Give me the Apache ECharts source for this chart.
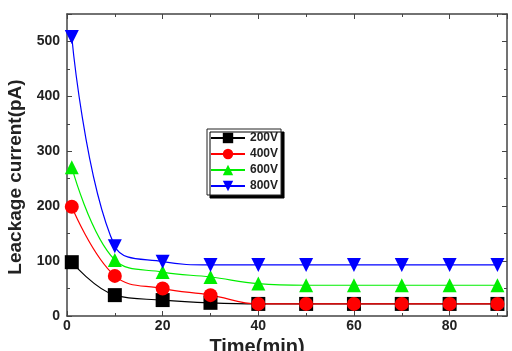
<!DOCTYPE html>
<html>
<head>
<meta charset="utf-8">
<script src="https://cdn.jsdelivr.net/npm/echarts@6/dist/echarts.min.js"></script>
<style>
html, body { margin: 0; padding: 0; background: #fff; }
#chart { width: 512px; height: 351px; }
</style>
</head>
<body>
<div id="chart"></div>
<script>
// 数据
var times = [1, 10, 20, 30, 40, 50, 60, 70, 80, 90];
var v200 = [98, 38, 29, 24, 22, 22, 22, 22, 22, 22];
var v400 = [199, 73, 50, 38, 22, 22, 22, 22, 22, 22];
var v600 = [271, 102, 80, 71, 59, 56, 56, 56, 56, 56];
var v800 = [508, 127, 99, 93, 93, 93, 93, 93, 93, 93];
var seriesNames = ['200V', '400V', '600V', '800V'];

function pairs(ys) {
    return times.map(function (t, i) { return [t, ys[i]]; });
}

var myChart = echarts.init(document.getElementById('chart'));

var font = 'Liberation Sans, Arial, sans-serif';
var axisFont = { fontFamily: font, fontWeight: 'bold', fontSize: 14, color: '#222' };
var frameLine = { onZero: false, lineStyle: { color: '#444', width: 1.5 } };
var tickIn = { show: true, inside: true, length: 5, lineStyle: { color: '#444' } };
var minorIn = { show: true, splitNumber: 2, length: 3, lineStyle: { color: '#444' } };

function makeSeries(name, ys, color, symbol, rotate) {
    return {
        name: name,
        type: 'line',
        data: pairs(ys),
        smooth: 0.4,
        symbol: symbol,
        symbolSize: 14,
        symbolRotate: rotate || 0,
        itemStyle: { color: color },
        lineStyle: { color: color, width: 1.2 }
    };
}

var option = {
    animation: false,
    backgroundColor: '#fff',
    grid: { left: 67, right: 5, top: 14, bottom: 35, containLabel: false, outerBoundsMode: 'none' },
    legend: {
        data: seriesNames,
        orient: 'vertical',
        left: 207,
        top: 129,
        itemWidth: 34,
        itemHeight: 13,
        itemGap: 4,
        padding: [3, 3, 3, 3],
        backgroundColor: '#fff',
        borderColor: '#222',
        borderWidth: 1,
        shadowColor: '#000',
        shadowOffsetX: 3,
        shadowOffsetY: 3,
        shadowBlur: 0,
        textStyle: { fontFamily: font, fontWeight: 'bold', fontSize: 12, color: '#222' }
    },
    xAxis: [{
        type: 'value',
        min: 0,
        max: 92,
        interval: 20,
        name: 'Time(min)',
        nameLocation: 'middle',
        nameGap: 21,
        nameTextStyle: { fontFamily: font, fontWeight: 'bold', fontSize: 20, color: '#222', padding: [0, 60, 0, 0] },
        axisLine: frameLine,
        axisTick: tickIn,
        minorTick: minorIn,
        axisLabel: Object.assign({ showMaxLabel: false, margin: 3 }, axisFont),
        splitLine: { show: false }
    }, {
        type: 'value',
        position: 'top',
        min: 0,
        max: 92,
        interval: 20,
        axisLine: frameLine,
        axisTick: tickIn,
        minorTick: minorIn,
        axisLabel: { show: false },
        splitLine: { show: false }
    }],
    yAxis: [{
        type: 'value',
        min: 0,
        max: 550,
        interval: 100,
        name: 'Leackage current(pA)',
        nameLocation: 'middle',
        nameGap: 40,
        nameTextStyle: { fontFamily: font, fontWeight: 'bold', fontSize: 19, color: '#222', padding: [0, 24, 0, 0] },
        axisLine: frameLine,
        axisTick: tickIn,
        minorTick: minorIn,
        axisLabel: Object.assign({ showMaxLabel: false, margin: 7 }, axisFont),
        splitLine: { show: false }
    }, {
        type: 'value',
        position: 'right',
        min: 0,
        max: 550,
        interval: 100,
        axisLine: Object.assign({ show: true }, frameLine),
        axisTick: tickIn,
        minorTick: minorIn,
        axisLabel: { show: false },
        splitLine: { show: false }
    }],
    series: [
        makeSeries('200V', v200, '#000000', 'rect'),
        makeSeries('400V', v400, '#ff0000', 'circle'),
        makeSeries('600V', v600, '#00ee00', 'triangle'),
        makeSeries('800V', v800, '#0000ff', 'triangle', 180)
    ]
};

myChart.setOption(option);
</script>
</body>
</html>
